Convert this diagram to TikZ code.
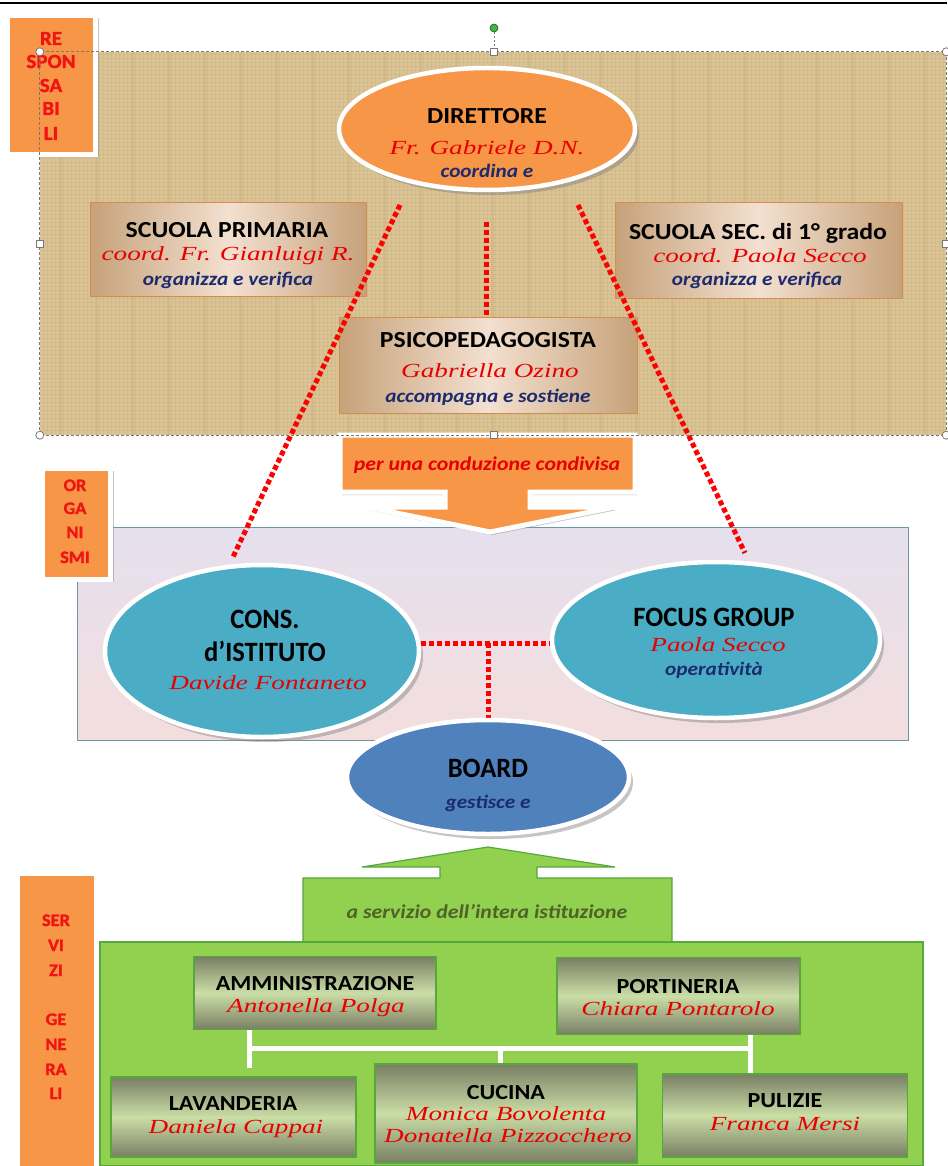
\documentclass[tikz,border=0pt]{standalone}
\usepackage{fontspec}
\setmainfont{Carlito}[FakeStretch=1.12]
\newfontfamily\scrf{Liberation Serif}[FakeStretch=1.36]
\newfontfamily\condf{Carlito}[FakeStretch=0.95]
\newfontfamily\heavyf{Carlito}[FakeBold=1.6, FakeStretch=1.05]
\usetikzlibrary{shapes.geometric,shadows,calc}
\definecolor{orangeF}{RGB}{247,150,70}
\definecolor{tanbg}{RGB}{218,195,148}
\definecolor{tanln}{RGB}{190,160,112}
\definecolor{tanD}{RGB}{198,162,122}
\definecolor{tanL}{RGB}{243,224,208}
\definecolor{tanE}{RGB}{212,140,80}
\definecolor{tealF}{RGB}{75,172,198}
\definecolor{blueF}{RGB}{79,129,189}
\definecolor{navyT}{RGB}{28,42,110}
\definecolor{redT}{RGB}{232,0,0}
\definecolor{labRed}{RGB}{240,20,20}
\definecolor{greenF}{RGB}{146,208,80}
\definecolor{greenE}{RGB}{86,168,60}
\definecolor{greenT}{RGB}{79,98,40}
\definecolor{gbD}{RGB}{122,126,100}
\definecolor{gbL}{RGB}{202,222,166}
\definecolor{orgT}{RGB}{229,224,238}
\definecolor{orgB}{RGB}{243,222,222}
\definecolor{orgE}{RGB}{110,150,160}
\definecolor{selG}{RGB}{120,120,120}
\begin{document}
\begin{tikzpicture}[x=1pt,y=-1pt,
  hd/.style={font=\fontsize{23}{26}\selectfont\bfseries, text=black, inner sep=0, anchor=base},
  eh/.style={font=\condf\fontsize{28}{30}\selectfont\bfseries, text=black, inner sep=0, anchor=base},
  bh/.style={font=\fontsize{21.5}{24}\selectfont\bfseries, text=black, inner sep=0, anchor=base},
  nm/.style={font=\scrf\itshape\fontsize{20}{22}\selectfont, text=redT, inner sep=0, anchor=base},
  rl/.style={font=\fontsize{19}{22}\selectfont\bfseries\itshape, text=navyT, inner sep=0, anchor=base},
  lab/.style={font=\heavyf\fontsize{20}{22}\selectfont\bfseries, text=labRed, inner sep=0, anchor=base},
  labs/.style={font=\heavyf\fontsize{17.5}{18}\selectfont\bfseries, text=labRed, inner sep=0, anchor=base},
  labbox/.style={rectangle, fill=orangeF, draw=white, line width=5, inner sep=0,
     drop shadow={shadow xshift=3pt, shadow yshift=-3pt, fill=black!45, opacity=.5}},
  tanbox/.style={rectangle, draw=tanE, line width=1, inner sep=0,
     left color=tanD, right color=tanD, middle color=tanL},
  gbox/.style={rectangle, draw=greenE, line width=1.2, inner sep=0,
     top color=gbD, bottom color=gbD, middle color=gbL},
  ell/.style={ellipse, draw=white, line width=4.5, inner sep=0,
     drop shadow={shadow xshift=4pt, shadow yshift=-5pt, fill=black!50, opacity=.45}},
  reddot/.style={draw=red, line width=5, dash pattern=on 5pt off 3pt},
  wline/.style={draw=white, line width=5},
  handle/.style={fill=white, draw=selG, line width=.8},
]
\useasboundingbox (0,0) rectangle (947,1166);
\fill[white] (0,0) rectangle (947,1166);
\draw[line width=2] (0,3) -- (947,3);

% ---------- textured background ----------
\node[rectangle, fill=tanbg, inner sep=0, minimum width=906, minimum height=383] (bg) at (493,243.5) {};
\foreach \i in {43,47,...,943} \draw[tanln, line width=.5, opacity=.22] (\i,52) -- (\i,435);
\foreach \j in {54,58,...,433} \draw[tanln, line width=.5, opacity=.18] (40,\j) -- (946,\j);
\foreach \i in {61,97,...,943} \draw[tanln, line width=1.2, opacity=.25] (\i,52) -- (\i,435);

% ---------- organismi area ----------
\node[rectangle, draw=orgE, line width=.8, top color=orgT, bottom color=orgB, inner sep=0,
      minimum width=831, minimum height=213] (org) at (492.5,633.5) {};

% ---------- green area ----------
\draw[fill=greenF, draw=greenE, line width=1.2]
  (488,847) -- (615,867) -- (537,867) -- (537,878) -- (672,878) -- (672,942)
  -- (303,942) -- (303,878) -- (440,878) -- (440,867) -- (362,867) -- cycle;
\node[rectangle, fill=greenF, draw=greenE, line width=1.5, inner sep=0,
      minimum width=823, minimum height=224] (gbig) at (511.5,1054) {};
\node[font=\fontsize{19.5}{22}\selectfont\bfseries\itshape, text=greenT, inner sep=0, anchor=base] (gtxt) at (487,918) {a servizio dell’intera istituzione};

% ---------- upper boxes ----------
\node[tanbox, minimum width=276, minimum height=93] (prim) at (228,249.5) {};
\node[tanbox, minimum width=287, minimum height=95] (sec) at (758.5,250.5) {};
\node[tanbox, minimum width=298, minimum height=96] (psi) at (488,365) {};

% ---------- red dotted connectors ----------
\coordinate (dl) at (400,205);
\coordinate (dr) at (578,205);
\coordinate (dm) at (486,222);
\coordinate (ct) at (233,557);
\coordinate (ft) at (745,553);
\coordinate (tj) at (488,643);

% ---------- arrow ----------
\draw[fill=orangeF, draw=white, line width=5,
      drop shadow={shadow xshift=2pt, shadow yshift=-3pt, fill=black!45, opacity=.5}]
  (340,435) -- (635,435) -- (635,492) -- (530,492) -- (530,507) -- (615,507)
  -- (490,532) -- (367,507) -- (445,507) -- (445,492) -- (340,492) -- cycle;
\node[font=\fontsize{19.5}{22}\selectfont\bfseries\itshape, text=redT, inner sep=0, anchor=base] (atxt) at (487,470) {per una conduzione condivisa};

% ---------- ellipses ----------
\node[ell, fill=tealF, minimum width=314, minimum height=172] (cons) at (262,651) {};
\node[ell, fill=tealF, minimum width=328, minimum height=156] (focus) at (716,640) {};

\draw[reddot] (dl) -- (ct);
\draw[reddot] (dr) -- (ft);
\draw[reddot] (dm) -- (dm |- psi.north);
\draw[reddot] (cons.east |- tj) -- (focus.west |- tj);
\draw[reddot] (tj) -- (488,719);

\node[ell, fill=orangeF, minimum width=296, minimum height=122] (dir) at (487,129) {};
\node[ell, fill=blueF, minimum width=282, minimum height=114] (board) at (488,777) {};

% ---------- texts upper ----------
\node[hd] (dirA) at (487,124) {DIRETTORE};
\node[nm] (dirB) at (487,155) {Fr. Gabriele D.N.};
\node[rl] (dirC) at (487,178) {coordina e};

\node[hd] (primA) at (227,238) {SCUOLA PRIMARIA};
\node[nm] (primB) at (228,261) {coord. Fr. Gianluigi R.};
\node[rl] (primC) at (228,285) {organizza e verifica};

\node[hd] (secA) at (758,240) {SCUOLA SEC. di 1° grado};
\node[nm] (secB) at (760,262) {coord. Paola Secco};
\node[rl] (secC) at (757,285) {organizza e verifica};

\node[hd] (psiA) at (488,347) {PSICOPEDAGOGISTA};
\node[nm] (psiB) at (490,377) {Gabriella Ozino};
\node[rl] (psiC) at (488,402) {accompagna e sostiene};

\node[eh] (consA) at (265,628) {CONS.};
\node[eh] (consB) at (265,661) {d’ISTITUTO};
\node[nm] (consC) at (268,689) {Davide Fontaneto};

\node[eh] (focA) at (714,626) {FOCUS GROUP};
\node[nm] (focB) at (718,651) {Paola Secco};
\node[rl] (focC) at (714,675) {operatività};

\node[eh] (boA) at (488,777) {BOARD};
\node[rl] (boB) at (488,808) {gestisce e};

% ---------- services boxes ----------
\node[gbox, minimum width=242, minimum height=73] (amm) at (315,993) {};
\node[gbox, minimum width=243, minimum height=77] (port) at (678.5,996) {};
\node[gbox, minimum width=245, minimum height=80] (lav) at (233.5,1117) {};
\node[gbox, minimum width=262, minimum height=99] (cuc) at (506,1113.5) {};
\node[gbox, minimum width=245, minimum height=83] (pul) at (785,1115.5) {};

\coordinate (hl) at (249,1048);
\coordinate (hm) at (500,1048);
\coordinate (hr) at (750,1048);
\draw[wline] (amm.south -| hl) -- (249,1068);
\draw[wline] (hl) -- (hr);
\draw[wline] (port.south -| hr) -- (pul.north -| hr);
\draw[wline] (hm) -- (cuc.north -| hm);

\node[bh] (ammA) at (315,990) {AMMINISTRAZIONE};
\node[nm] (ammB) at (316,1012) {Antonella Polga};
\node[bh] (portA) at (678,993) {PORTINERIA};
\node[nm] (portB) at (678,1015) {Chiara Pontarolo};
\node[bh] (lavA) at (233,1110) {LAVANDERIA};
\node[nm] (lavB) at (236,1133) {Daniela Cappai};
\node[bh] (cucA) at (506,1099) {CUCINA};
\node[nm] (cucB) at (506,1120) {Monica Bovolenta};
\node[nm] (cucC) at (508,1142) {Donatella Pizzocchero};
\node[bh] (pulA) at (785,1107) {PULIZIE};
\node[nm] (pulB) at (785,1130) {Franca Mersi};

% ---------- side labels ----------
\node[labbox, minimum width=88, minimum height=139] (resp) at (51.5,85) {};
\node[lab] (r1) at (51,45) {RE};
\node[lab] (r2) at (51,68) {SPON};
\node[lab] (r3) at (51,92) {SA};
\node[lab] (r4) at (51,115) {BI};
\node[lab] (r5) at (51,140) {LI};

\node[labbox, minimum width=68, minimum height=111] (orgl) at (76.5,523.5) {};
\node[labs] (o1) at (75,491) {OR};
\node[labs] (o2) at (75,514) {GA};
\node[labs] (o3) at (75,538) {NI};
\node[labs] (o4) at (75,563) {SMI};

\node[labbox, minimum width=79, minimum height=298] (serv) at (56.5,1022) {};
\node[labs] (s1) at (56,926) {SER};
\node[labs] (s2) at (56,951) {VI};
\node[labs] (s3) at (56,976) {ZI};
\node[labs] (s4) at (56,1025) {GE};
\node[labs] (s5) at (56,1050) {NE};
\node[labs] (s6) at (56,1075) {RA};
\node[labs] (s7) at (56,1099) {LI};

% ---------- selection overlay ----------
\draw[selG, line width=.7, dash pattern=on 3pt off 2pt] (bg.north west) rectangle (bg.south east);
\coordinate (rot) at (494,28);
\draw[selG, line width=.7, dash pattern=on 2pt off 2pt] (rot) -- (bg.north -| rot);
\fill[green!55!black!70!white, draw=green!40!black, line width=.6] (rot) circle (4);
\draw[handle] (bg.north west) circle (4);
\draw[handle] (bg.north east) circle (4);
\draw[handle] (bg.south west) circle (4);
\draw[handle] (bg.south east) circle (4);
\draw[handle] ($(bg.north -| rot)+(-3.5,-3.5)$) rectangle ++(7,7);
\draw[handle] ($(bg.south -| rot)+(-3.5,-3.5)$) rectangle ++(7,7);
\draw[handle] ($(bg.west)+(-3.5,-3.5)$) rectangle ++(7,7);
\draw[handle] ($(bg.east)+(-3.5,-3.5)$) rectangle ++(7,7);
\end{tikzpicture}
\end{document}
